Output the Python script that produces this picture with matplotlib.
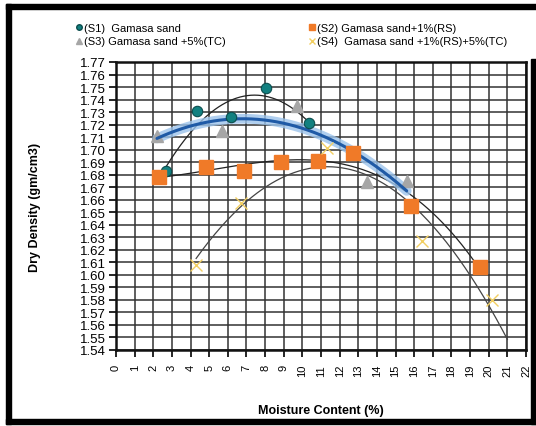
import numpy as np
import matplotlib.pyplot as plt
from matplotlib.patches import Rectangle
from matplotlib.lines import Line2D

plt.rcParams['font.family'] = ['Liberation Sans', 'DejaVu Sans']

# Data (moisture %, dry density gm/cm3)
s1_x = [2.7, 4.35, 6.15, 8.05, 10.35]
s1_y = [1.683, 1.731, 1.726, 1.749, 1.721]

s2_x = [2.3, 4.85, 6.85, 8.85, 10.85, 12.7, 15.85, 19.55]
s2_y = [1.678, 1.686, 1.683, 1.690, 1.691, 1.697, 1.655, 1.606]

s3_x = [2.2, 5.7, 9.7, 13.45, 15.6]
s3_y = [1.711, 1.715, 1.735, 1.674, 1.675]

s4_x = [4.3, 6.7, 11.3, 16.4, 20.2]
s4_y = [1.608, 1.657, 1.701, 1.627, 1.580]

# polynomial trendline order and x-range for each series
trend_order = {'s1': 2, 's2': 3, 's3': 2, 's4': 2}
trend_range = {'s1': (2.7, 10.35), 's2': (2.4, 19.5), 's3': (2.2, 15.6), 's4': (4.3, 21.0)}

labels = ['(S1)  Gamasa sand', '(S2) Gamasa sand+1%(RS)',
          '(S3) Gamasa sand +5%(TC)', '(S4)  Gamasa sand +1%(RS)+5%(TC)']
x_ticks = list(range(0, 23))
y_ticks = [round(1.54 + 0.01 * i, 2) for i in range(24)]

fig = plt.figure(figsize=(5.36, 4.27), dpi=100)
ax = fig.add_axes([116 / 536, 1 - 351 / 427, 410 / 536, 288 / 427])


def trend(xs, ys, key):
    c = np.polyfit(xs, ys, trend_order[key])
    xx = np.linspace(trend_range[key][0], trend_range[key][1], 200)
    return xx, np.polyval(c, xx)


# trendlines
xx, yy = trend(s1_x, s1_y, 's1')
ax.plot(xx, yy, color='#222222', lw=0.9, zorder=3)
xx, yy = trend(s2_x, s2_y, 's2')
ax.plot(xx, yy, color='#222222', lw=0.9, zorder=3)
xx, yy = trend(s4_x, s4_y, 's4')
ax.plot(xx, yy, color='#444444', lw=0.9, zorder=3)
xx, yy = trend(s3_x, s3_y, 's3')
ax.plot(xx, yy, color='#9cc4ec', lw=7, alpha=0.8, solid_capstyle='round', zorder=4)
ax.plot(xx, yy, color='#1f5aa6', lw=2.2, solid_capstyle='round', zorder=5)

# markers
ax.plot(s3_x, s3_y, '^', color='#a6a6a6', ms=9, mec='#a6a6a6', ls='none', zorder=4)
ax.plot(s1_x, s1_y, 'o', color='#128080', ms=7.5, mec='#0b4d4d', mew=0.8, ls='none', zorder=6)
ax.plot(s2_x, s2_y, 's', color='#f07a28', ms=10, mec='#f07a28', ls='none', zorder=6)
ax.plot(s4_x, s4_y, 'x', color='#f2cf62', ms=8, mew=1.0, ls='none', zorder=6)

ax.set_xlim(0, 22)
ax.set_ylim(1.54, 1.77)
ax.set_xticks(x_ticks)
ax.set_yticks(y_ticks)
ax.set_xticklabels([str(t) for t in x_ticks], rotation=90, fontsize=8)
ax.set_yticklabels(['%.2f' % t for t in y_ticks], fontsize=9.5,
                   family=['Liberation Sans Narrow', 'Liberation Sans'])
ax.tick_params(direction='out', length=5, width=1.2, pad=2)
ax.tick_params(axis='x', pad=5)
ax.grid(True, color='#333333', lw=1.1)
ax.set_axisbelow(True)
for s in ax.spines.values():
    s.set_linewidth(1.8)
    s.set_color('#111111')

ax.set_ylabel('Dry Density (gm/cm3)', fontsize=9, fontweight='bold', labelpad=28)
ax.set_xlabel('Moisture Content (%)', fontsize=9, fontweight='bold', labelpad=20)

# legend (two columns, no frame)
h1 = Line2D([], [], marker='o', color='#128080', mec='#0b4d4d', ms=4, ls='none')
h2 = Line2D([], [], marker='s', color='#f07a28', ms=4, ls='none')
h3 = Line2D([], [], marker='^', color='#a6a6a6', ms=4, ls='none')
h4 = Line2D([], [], marker='x', color='#f2cf62', ms=4, ls='none')
leg1 = fig.legend([h1, h3], [labels[0], labels[2]], loc='upper left',
                  bbox_to_anchor=(70 / 536, 1 - 18 / 427), frameon=False, fontsize=8,
                  handlelength=0.6, handletextpad=0.2, labelspacing=0.35, borderpad=0)
leg2 = fig.legend([h2, h4], [labels[1], labels[3]], loc='upper left',
                  bbox_to_anchor=(303 / 536, 1 - 18 / 427), frameon=False, fontsize=8,
                  handlelength=0.6, handletextpad=0.2, labelspacing=0.35, borderpad=0)

# screenshot frame
W, H = 536, 427
for (x0, y0, w, h) in [(6, 5, 530, 5), (6, 5, 5, 420), (6, 420, 530, 5), (531, 60, 5, 365)]:
    fig.add_artist(Rectangle((x0 / W, 1 - (y0 + h) / H), w / W, h / H,
                             transform=fig.transFigure, color='black', zorder=10))

fig.savefig('out.png', dpi=100)
